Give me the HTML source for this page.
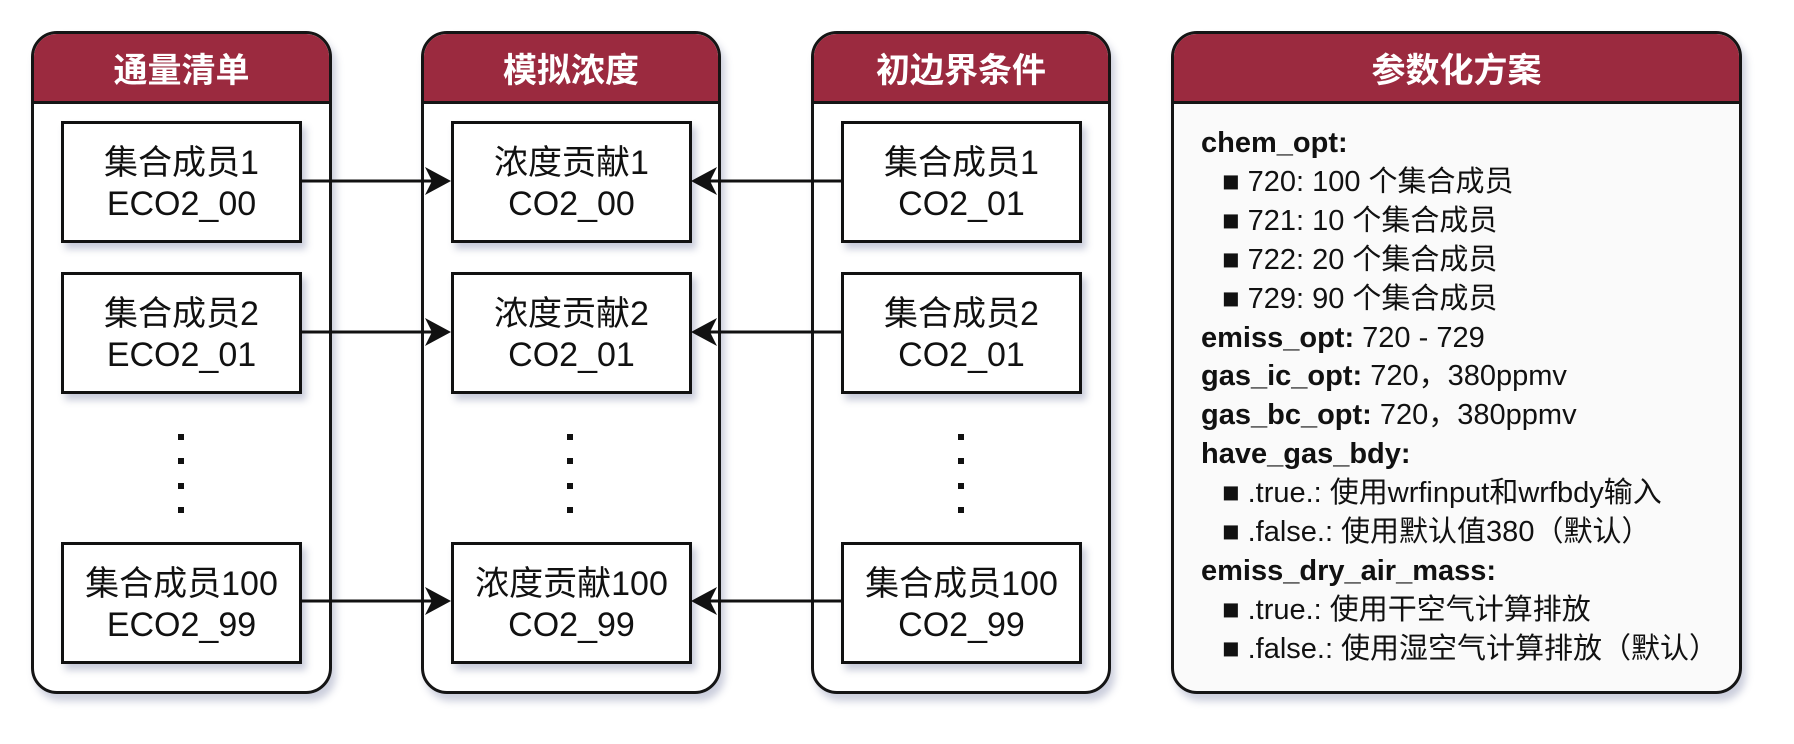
<!DOCTYPE html>
<html><head><meta charset="utf-8"><style>
body{margin:0;width:1794px;height:744px;background:#fff;position:relative;overflow:hidden;font-family:"Liberation Sans","Noto Sans CJK SC",sans-serif}
.panel{position:absolute;top:31px;height:657px;border:3px solid #151515;border-radius:26px;background:#fff;box-shadow:4px 7px 8px rgba(70,80,130,0.28);overflow:hidden}
.hd{height:67px;background:#9b2a3f;border-bottom:3px solid #151515;color:#fff;font-weight:bold;font-size:34px;text-align:center;line-height:67px;font-family:"Noto Sans CJK SC",sans-serif}
.box{position:absolute;width:235px;height:112px;border:3px solid #111;background:#fff;box-shadow:4px 6px 7px rgba(70,80,130,0.3);display:flex;flex-direction:column;justify-content:center;align-items:center;font-size:34px;line-height:41px;color:#111;padding-top:4px;box-sizing:content-box;white-space:nowrap}
.dot{position:absolute;width:6px;height:6px;background:#111}
.txt{position:absolute;left:1201px;top:124px;font-size:29px;line-height:38.9px;color:#111;white-space:nowrap}
.txt b{font-weight:bold}
.txt .i{padding-left:21px}
.sq{font-size:34px;line-height:20px}
</style></head><body>
<div class="panel" style="left:31px;width:295px"><div class="hd">通量清单</div></div>
<div class="panel" style="left:421px;width:294px"><div class="hd">模拟浓度</div></div>
<div class="panel" style="left:811px;width:294px"><div class="hd">初边界条件</div></div>
<div class="panel" style="left:1171px;width:565px;background:#fafafa"><div class="hd">参数化方案</div></div>

<div class="box" style="left:61px;top:121px"><div>集合成员1</div><div>ECO2_00</div></div>
<div class="box" style="left:61px;top:272px"><div>集合成员2</div><div>ECO2_01</div></div>
<div class="box" style="left:61px;top:542px"><div>集合成员100</div><div>ECO2_99</div></div>
<div class="box" style="left:451px;top:121px"><div>浓度贡献1</div><div>CO2_00</div></div>
<div class="box" style="left:451px;top:272px"><div>浓度贡献2</div><div>CO2_01</div></div>
<div class="box" style="left:451px;top:542px"><div>浓度贡献100</div><div>CO2_99</div></div>
<div class="box" style="left:841px;top:121px"><div>集合成员1</div><div>CO2_01</div></div>
<div class="box" style="left:841px;top:272px"><div>集合成员2</div><div>CO2_01</div></div>
<div class="box" style="left:841px;top:542px"><div>集合成员100</div><div>CO2_99</div></div>

<div class="dot" style="left:178px;top:434px"></div><div class="dot" style="left:178px;top:458px"></div><div class="dot" style="left:178px;top:483px"></div><div class="dot" style="left:178px;top:507px"></div>
<div class="dot" style="left:567px;top:434px"></div><div class="dot" style="left:567px;top:458px"></div><div class="dot" style="left:567px;top:483px"></div><div class="dot" style="left:567px;top:507px"></div>
<div class="dot" style="left:958px;top:434px"></div><div class="dot" style="left:958px;top:458px"></div><div class="dot" style="left:958px;top:483px"></div><div class="dot" style="left:958px;top:507px"></div>

<svg width="1794" height="744" style="position:absolute;left:0;top:0">
<g stroke="#111" stroke-width="3">
<line x1="302" y1="181" x2="440" y2="181"/><line x1="302" y1="332" x2="440" y2="332"/><line x1="302" y1="601" x2="440" y2="601"/>
<line x1="841" y1="181" x2="702" y2="181"/><line x1="841" y1="332" x2="702" y2="332"/><line x1="841" y1="601" x2="702" y2="601"/>
</g>
<g fill="#111">
<path d="M451 181 L425 167 L432 181 L425 195 Z"/><path d="M451 332 L425 318 L432 332 L425 346 Z"/><path d="M451 601 L425 587 L432 601 L425 615 Z"/>
<path d="M691 181 L717 167 L710 181 L717 195 Z"/><path d="M691 332 L717 318 L710 332 L717 346 Z"/><path d="M691 601 L717 587 L710 601 L717 615 Z"/>
</g>
</svg>

<div class="txt">
<div><b>chem_opt:</b></div>
<div class="i">■ 720: 100 个集合成员</div>
<div class="i">■ 721: 10 个集合成员</div>
<div class="i">■ 722: 20 个集合成员</div>
<div class="i">■ 729: 90 个集合成员</div>
<div><b>emiss_opt:</b> 720 - 729</div>
<div><b>gas_ic_opt:</b> 720，380ppmv</div>
<div><b>gas_bc_opt:</b> 720，380ppmv</div>
<div><b>have_gas_bdy:</b></div>
<div class="i">■ .true.: 使用wrfinput和wrfbdy输入</div>
<div class="i">■ .false.: 使用默认值380（默认）</div>
<div><b>emiss_dry_air_mass:</b></div>
<div class="i">■ .true.: 使用干空气计算排放</div>
<div class="i">■ .false.: 使用湿空气计算排放（默认）</div>
</div>
</body></html>
